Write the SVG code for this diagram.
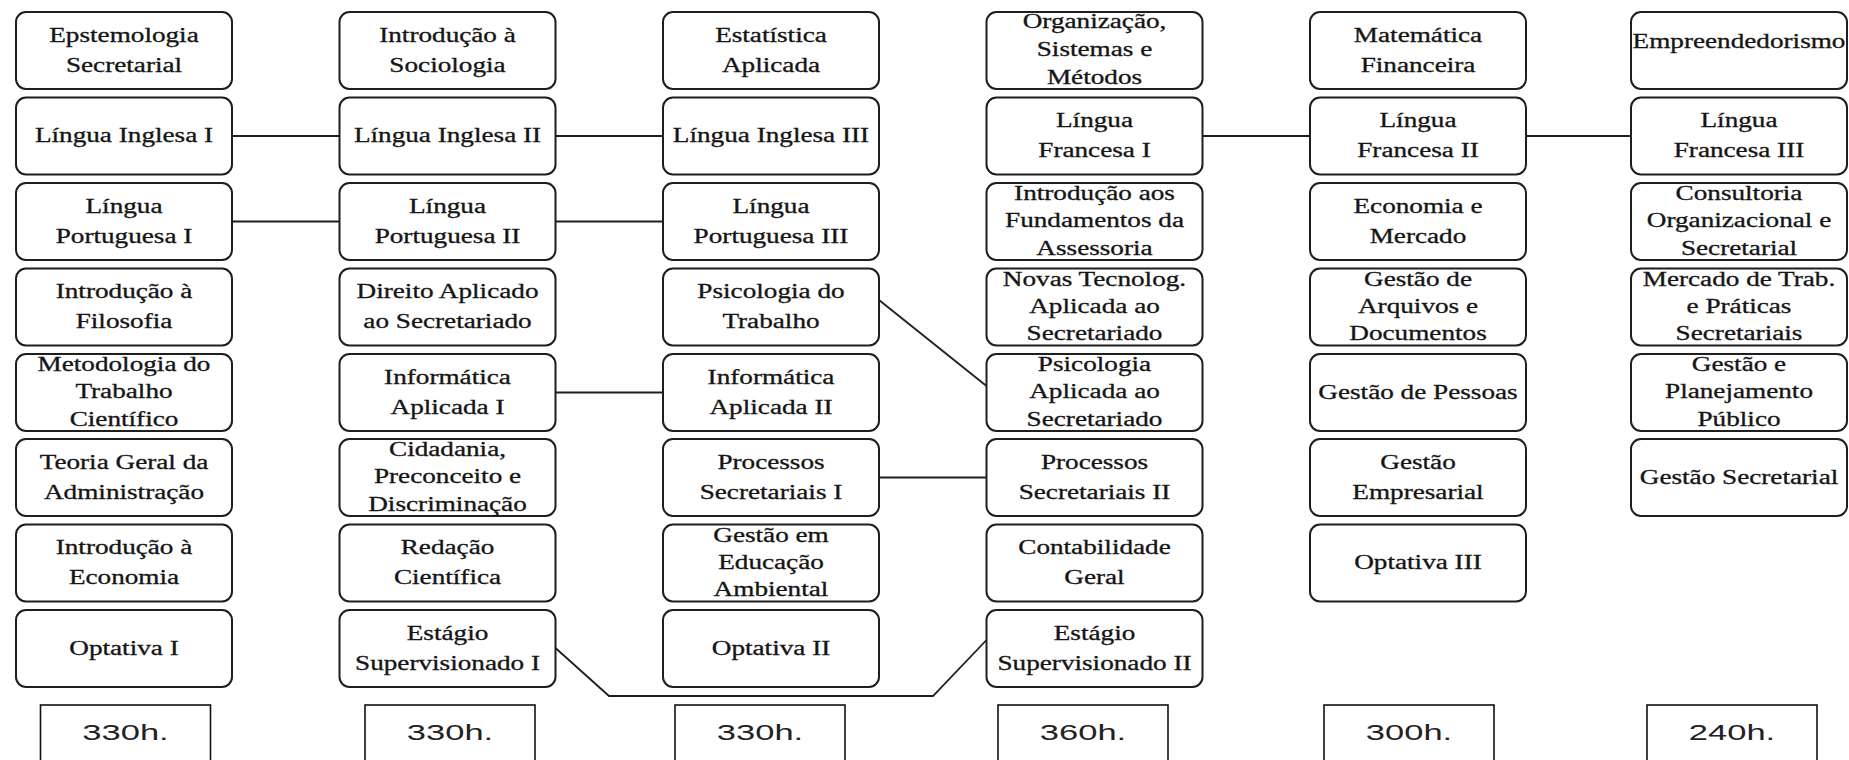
<svg xmlns="http://www.w3.org/2000/svg" width="1849" height="760" viewBox="0 0 1849 760">
<style>
.box{fill:#fff;stroke:#1e1e1e;stroke-width:2}
.hbox{fill:#fff;stroke:#111;stroke-width:1.6}
.t{font-family:'Liberation Serif','Times New Roman',serif;font-size:20px;fill:#151515;stroke:#151515;stroke-width:0.3;text-anchor:middle}
.h{font-family:'Liberation Sans',Arial,sans-serif;font-size:23px;fill:#222;text-anchor:middle}
.c{fill:none;stroke:#1e1e1e;stroke-width:1.8}
</style>
<rect width="1849" height="760" fill="#fff"/>
<g id="connectors">
<line class="c" x1="232" y1="136" x2="339.5" y2="136"/>
<line class="c" x1="555.5" y1="136" x2="663" y2="136"/>
<line class="c" x1="1202.5" y1="136" x2="1310" y2="136"/>
<line class="c" x1="1526" y1="136" x2="1631" y2="136"/>
<line class="c" x1="232" y1="221.5" x2="339.5" y2="221.5"/>
<line class="c" x1="555.5" y1="221.5" x2="663" y2="221.5"/>
<line class="c" x1="555.5" y1="392.5" x2="663" y2="392.5"/>
<line class="c" x1="879" y1="477.5" x2="986.5" y2="477.5"/>
<line class="c" x1="879" y1="300" x2="986.5" y2="386"/>
<polyline class="c" points="555.5,648 609,696 933,696 986.5,640"/>
</g>
<!-- Column 1 -->
<g id="c1r1" transform="translate(16,12)"><rect class="box" width="216" height="77" rx="10"/><text class="t" transform="translate(108,0) scale(1.36,1)"><tspan x="0" y="30">Epstemologia</tspan><tspan x="0" y="60">Secretarial</tspan></text></g>
<g id="c1r2" transform="translate(16,97.5)"><rect class="box" width="216" height="77" rx="10"/><text class="t" transform="translate(108,0) scale(1.36,1)"><tspan x="0" y="45">Língua Inglesa I</tspan></text></g>
<g id="c1r3" transform="translate(16,183)"><rect class="box" width="216" height="77" rx="10"/><text class="t" transform="translate(108,0) scale(1.36,1)"><tspan x="0" y="30">Língua</tspan><tspan x="0" y="60">Portuguesa I</tspan></text></g>
<g id="c1r4" transform="translate(16,268.5)"><rect class="box" width="216" height="77" rx="10"/><text class="t" transform="translate(108,0) scale(1.36,1)"><tspan x="0" y="30">Introdução à</tspan><tspan x="0" y="60">Filosofia</tspan></text></g>
<g id="c1r5" transform="translate(16,354)"><rect class="box" width="216" height="77" rx="10"/><text class="t" transform="translate(108,0) scale(1.36,1)"><tspan x="0" y="17">Metodologia do</tspan><tspan x="0" y="44.5">Trabalho</tspan><tspan x="0" y="72">Científico</tspan></text></g>
<g id="c1r6" transform="translate(16,439)"><rect class="box" width="216" height="77" rx="10"/><text class="t" transform="translate(108,0) scale(1.36,1)"><tspan x="0" y="30">Teoria Geral da</tspan><tspan x="0" y="60">Administração</tspan></text></g>
<g id="c1r7" transform="translate(16,524.5)"><rect class="box" width="216" height="77" rx="10"/><text class="t" transform="translate(108,0) scale(1.36,1)"><tspan x="0" y="30">Introdução à</tspan><tspan x="0" y="60">Economia</tspan></text></g>
<g id="c1r8" transform="translate(16,610)"><rect class="box" width="216" height="77" rx="10"/><text class="t" transform="translate(108,0) scale(1.36,1)"><tspan x="0" y="45">Optativa I</tspan></text></g>
<!-- Column 2 -->
<g id="c2r1" transform="translate(339.5,12)"><rect class="box" width="216" height="77" rx="10"/><text class="t" transform="translate(108,0) scale(1.36,1)"><tspan x="0" y="30">Introdução à</tspan><tspan x="0" y="60">Sociologia</tspan></text></g>
<g id="c2r2" transform="translate(339.5,97.5)"><rect class="box" width="216" height="77" rx="10"/><text class="t" transform="translate(108,0) scale(1.36,1)"><tspan x="0" y="45">Língua Inglesa II</tspan></text></g>
<g id="c2r3" transform="translate(339.5,183)"><rect class="box" width="216" height="77" rx="10"/><text class="t" transform="translate(108,0) scale(1.36,1)"><tspan x="0" y="30">Língua</tspan><tspan x="0" y="60">Portuguesa II</tspan></text></g>
<g id="c2r4" transform="translate(339.5,268.5)"><rect class="box" width="216" height="77" rx="10"/><text class="t" transform="translate(108,0) scale(1.36,1)"><tspan x="0" y="30">Direito Aplicado</tspan><tspan x="0" y="60">ao Secretariado</tspan></text></g>
<g id="c2r5" transform="translate(339.5,354)"><rect class="box" width="216" height="77" rx="10"/><text class="t" transform="translate(108,0) scale(1.36,1)"><tspan x="0" y="30">Informática</tspan><tspan x="0" y="60">Aplicada I</tspan></text></g>
<g id="c2r6" transform="translate(339.5,439)"><rect class="box" width="216" height="77" rx="10"/><text class="t" transform="translate(108,0) scale(1.36,1)"><tspan x="0" y="17">Cidadania,</tspan><tspan x="0" y="44.5">Preconceito e</tspan><tspan x="0" y="72">Discriminação</tspan></text></g>
<g id="c2r7" transform="translate(339.5,524.5)"><rect class="box" width="216" height="77" rx="10"/><text class="t" transform="translate(108,0) scale(1.36,1)"><tspan x="0" y="30">Redação</tspan><tspan x="0" y="60">Científica</tspan></text></g>
<g id="c2r8" transform="translate(339.5,610)"><rect class="box" width="216" height="77" rx="10"/><text class="t" transform="translate(108,0) scale(1.36,1)"><tspan x="0" y="30">Estágio</tspan><tspan x="0" y="60">Supervisionado I</tspan></text></g>
<!-- Column 3 -->
<g id="c3r1" transform="translate(663,12)"><rect class="box" width="216" height="77" rx="10"/><text class="t" transform="translate(108,0) scale(1.36,1)"><tspan x="0" y="30">Estatística</tspan><tspan x="0" y="60">Aplicada</tspan></text></g>
<g id="c3r2" transform="translate(663,97.5)"><rect class="box" width="216" height="77" rx="10"/><text class="t" transform="translate(108,0) scale(1.36,1)"><tspan x="0" y="45">Língua Inglesa III</tspan></text></g>
<g id="c3r3" transform="translate(663,183)"><rect class="box" width="216" height="77" rx="10"/><text class="t" transform="translate(108,0) scale(1.36,1)"><tspan x="0" y="30">Língua</tspan><tspan x="0" y="60">Portuguesa III</tspan></text></g>
<g id="c3r4" transform="translate(663,268.5)"><rect class="box" width="216" height="77" rx="10"/><text class="t" transform="translate(108,0) scale(1.36,1)"><tspan x="0" y="30">Psicologia do</tspan><tspan x="0" y="60">Trabalho</tspan></text></g>
<g id="c3r5" transform="translate(663,354)"><rect class="box" width="216" height="77" rx="10"/><text class="t" transform="translate(108,0) scale(1.36,1)"><tspan x="0" y="30">Informática</tspan><tspan x="0" y="60">Aplicada II</tspan></text></g>
<g id="c3r6" transform="translate(663,439)"><rect class="box" width="216" height="77" rx="10"/><text class="t" transform="translate(108,0) scale(1.36,1)"><tspan x="0" y="30">Processos</tspan><tspan x="0" y="60">Secretariais I</tspan></text></g>
<g id="c3r7" transform="translate(663,524.5)"><rect class="box" width="216" height="77" rx="10"/><text class="t" transform="translate(108,0) scale(1.36,1)"><tspan x="0" y="17">Gestão em</tspan><tspan x="0" y="44.5">Educação</tspan><tspan x="0" y="72">Ambiental</tspan></text></g>
<g id="c3r8" transform="translate(663,610)"><rect class="box" width="216" height="77" rx="10"/><text class="t" transform="translate(108,0) scale(1.36,1)"><tspan x="0" y="45">Optativa II</tspan></text></g>
<!-- Column 4 -->
<g id="c4r1" transform="translate(986.5,12)"><rect class="box" width="216" height="77" rx="10"/><text class="t" transform="translate(108,0) scale(1.36,1)"><tspan x="0" y="16">Organização,</tspan><tspan x="0" y="44.5">Sistemas e</tspan><tspan x="0" y="72">Métodos</tspan></text></g>
<g id="c4r2" transform="translate(986.5,97.5)"><rect class="box" width="216" height="77" rx="10"/><text class="t" transform="translate(108,0) scale(1.36,1)"><tspan x="0" y="30">Língua</tspan><tspan x="0" y="60">Francesa I</tspan></text></g>
<g id="c4r3" transform="translate(986.5,183)"><rect class="box" width="216" height="77" rx="10"/><text class="t" transform="translate(108,0) scale(1.36,1)"><tspan x="0" y="17">Introdução aos</tspan><tspan x="0" y="44.5">Fundamentos da</tspan><tspan x="0" y="72">Assessoria</tspan></text></g>
<g id="c4r4" transform="translate(986.5,268.5)"><rect class="box" width="216" height="77" rx="10"/><text class="t" transform="translate(108,0) scale(1.36,1)"><tspan x="0" y="17">Novas Tecnolog.</tspan><tspan x="0" y="44.5">Aplicada ao</tspan><tspan x="0" y="72">Secretariado</tspan></text></g>
<g id="c4r5" transform="translate(986.5,354)"><rect class="box" width="216" height="77" rx="10"/><text class="t" transform="translate(108,0) scale(1.36,1)"><tspan x="0" y="17">Psicologia</tspan><tspan x="0" y="44.5">Aplicada ao</tspan><tspan x="0" y="72">Secretariado</tspan></text></g>
<g id="c4r6" transform="translate(986.5,439)"><rect class="box" width="216" height="77" rx="10"/><text class="t" transform="translate(108,0) scale(1.36,1)"><tspan x="0" y="30">Processos</tspan><tspan x="0" y="60">Secretariais II</tspan></text></g>
<g id="c4r7" transform="translate(986.5,524.5)"><rect class="box" width="216" height="77" rx="10"/><text class="t" transform="translate(108,0) scale(1.36,1)"><tspan x="0" y="30">Contabilidade</tspan><tspan x="0" y="60">Geral</tspan></text></g>
<g id="c4r8" transform="translate(986.5,610)"><rect class="box" width="216" height="77" rx="10"/><text class="t" transform="translate(108,0) scale(1.36,1)"><tspan x="0" y="30">Estágio</tspan><tspan x="0" y="60">Supervisionado II</tspan></text></g>
<!-- Column 5 -->
<g id="c5r1" transform="translate(1310,12)"><rect class="box" width="216" height="77" rx="10"/><text class="t" transform="translate(108,0) scale(1.36,1)"><tspan x="0" y="30">Matemática</tspan><tspan x="0" y="60">Financeira</tspan></text></g>
<g id="c5r2" transform="translate(1310,97.5)"><rect class="box" width="216" height="77" rx="10"/><text class="t" transform="translate(108,0) scale(1.36,1)"><tspan x="0" y="30">Língua</tspan><tspan x="0" y="60">Francesa II</tspan></text></g>
<g id="c5r3" transform="translate(1310,183)"><rect class="box" width="216" height="77" rx="10"/><text class="t" transform="translate(108,0) scale(1.36,1)"><tspan x="0" y="30">Economia e</tspan><tspan x="0" y="60">Mercado</tspan></text></g>
<g id="c5r4" transform="translate(1310,268.5)"><rect class="box" width="216" height="77" rx="10"/><text class="t" transform="translate(108,0) scale(1.36,1)"><tspan x="0" y="17">Gestão de</tspan><tspan x="0" y="44.5">Arquivos e</tspan><tspan x="0" y="72">Documentos</tspan></text></g>
<g id="c5r5" transform="translate(1310,354)"><rect class="box" width="216" height="77" rx="10"/><text class="t" transform="translate(108,0) scale(1.36,1)"><tspan x="0" y="45">Gestão de Pessoas</tspan></text></g>
<g id="c5r6" transform="translate(1310,439)"><rect class="box" width="216" height="77" rx="10"/><text class="t" transform="translate(108,0) scale(1.36,1)"><tspan x="0" y="30">Gestão</tspan><tspan x="0" y="60">Empresarial</tspan></text></g>
<g id="c5r7" transform="translate(1310,524.5)"><rect class="box" width="216" height="77" rx="10"/><text class="t" transform="translate(108,0) scale(1.36,1)"><tspan x="0" y="45">Optativa III</tspan></text></g>
<!-- Column 6 -->
<g id="c6r1" transform="translate(1631,12)"><rect class="box" width="216" height="77" rx="10"/><text class="t" transform="translate(108,0) scale(1.36,1)"><tspan x="0" y="36">Empreendedorismo</tspan></text></g>
<g id="c6r2" transform="translate(1631,97.5)"><rect class="box" width="216" height="77" rx="10"/><text class="t" transform="translate(108,0) scale(1.36,1)"><tspan x="0" y="30">Língua</tspan><tspan x="0" y="60">Francesa III</tspan></text></g>
<g id="c6r3" transform="translate(1631,183)"><rect class="box" width="216" height="77" rx="10"/><text class="t" transform="translate(108,0) scale(1.36,1)"><tspan x="0" y="17">Consultoria</tspan><tspan x="0" y="44.5">Organizacional e</tspan><tspan x="0" y="72">Secretarial</tspan></text></g>
<g id="c6r4" transform="translate(1631,268.5)"><rect class="box" width="216" height="77" rx="10"/><text class="t" transform="translate(108,0) scale(1.36,1)"><tspan x="0" y="17">Mercado de Trab.</tspan><tspan x="0" y="44.5">e Práticas</tspan><tspan x="0" y="72">Secretariais</tspan></text></g>
<g id="c6r5" transform="translate(1631,354)"><rect class="box" width="216" height="77" rx="10"/><text class="t" transform="translate(108,0) scale(1.36,1)"><tspan x="0" y="17">Gestão e</tspan><tspan x="0" y="44.5">Planejamento</tspan><tspan x="0" y="72">Público</tspan></text></g>
<g id="c6r6" transform="translate(1631,439)"><rect class="box" width="216" height="77" rx="10"/><text class="t" transform="translate(108,0) scale(1.36,1)"><tspan x="0" y="45">Gestão Secretarial</tspan></text></g>
<!-- Hours -->
<g id="h1" transform="translate(125.5,0)"><rect class="hbox" x="-85" y="705" width="170" height="70"/><text class="h" transform="translate(0,740) scale(1.5,1)">330h.</text></g>
<g id="h2" transform="translate(450,0)"><rect class="hbox" x="-85" y="705" width="170" height="70"/><text class="h" transform="translate(0,740) scale(1.5,1)">330h.</text></g>
<g id="h3" transform="translate(760,0)"><rect class="hbox" x="-85" y="705" width="170" height="70"/><text class="h" transform="translate(0,740) scale(1.5,1)">330h.</text></g>
<g id="h4" transform="translate(1083,0)"><rect class="hbox" x="-85" y="705" width="170" height="70"/><text class="h" transform="translate(0,740) scale(1.5,1)">360h.</text></g>
<g id="h5" transform="translate(1409,0)"><rect class="hbox" x="-85" y="705" width="170" height="70"/><text class="h" transform="translate(0,740) scale(1.5,1)">300h.</text></g>
<g id="h6" transform="translate(1732,0)"><rect class="hbox" x="-85" y="705" width="170" height="70"/><text class="h" transform="translate(0,740) scale(1.5,1)">240h.</text></g>
</svg>
